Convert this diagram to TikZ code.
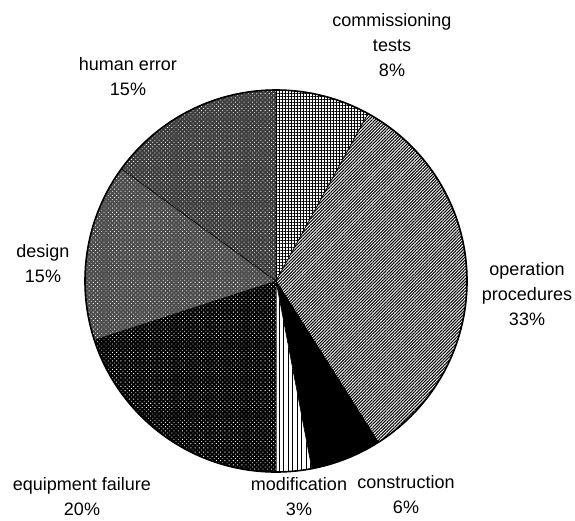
\documentclass[tikz,border=0pt]{standalone}
\usepackage{fontspec}
\setmainfont{Liberation Sans}
\usetikzlibrary{patterns}
\usetikzlibrary{patterns.meta}
\tikzset{
  lbl/.style={align=center, inner sep=0pt, font=\fontsize{18}{25}\selectfont},
  rim/.style={line width=1.6pt},
  pie_part/.style={draw=black, line width=0.6pt},
  % pie_part/.style={draw=none},
  part_comm/.style={pie_part, fill=white, postaction={pattern={Hatch[angle=0, distance=3pt, line width=1pt]}}},
  part_oper/.style={pie_part, fill=white, postaction={pattern={Lines[angle=45, distance=2.2pt, line width=1.05pt]}}},
  part_cons/.style={pie_part, fill=black},
  part_modi/.style={pie_part, fill=white, postaction={pattern={Lines[angle=90, distance=4.5pt, line width=1pt]}}},
  part_equi/.style={pie_part, fill=black, postaction={pattern={Dots[angle=45, distance=3pt, radius=0.6pt]}, pattern color=white}},
  part_desi/.style={pie_part, fill=black!70, postaction={pattern={Dots[angle=45, distance=3pt, radius=0.6pt]}, pattern color=white}},
  part_huma/.style={pie_part, fill=black!76, postaction={pattern={Dots[angle=45, distance=3pt, radius=0.6pt]}, pattern color=white}},
}

\begin{document}
\begin{tikzpicture}[x=1pt, y=1pt]
\useasboundingbox (0,0) rectangle (575,-520);

\coordinate (c) at (276,-281);

% start angle / end angle / style
\foreach \a/\b/\s in {90/61.2/part_comm, 61.2/-57.6/part_oper, -57.6/-79.2/part_cons,
  -79.2/-90/part_modi, -90/-162/part_equi, -162/-216/part_desi, 144/90/part_huma}
  \draw[\s] (c) -- ++(\a:191) arc[start angle=\a, end angle=\b, radius=191] -- cycle;

\draw[rim] (c) circle (191);

\node[lbl] (comm) at (392,-45) {commissioning\\tests\\8\%};

\node[lbl] (huma) at (128,-77) {human error\\15\%};

\node[lbl] (desi) at (43,-264) {design\\15\%};

\node[lbl] (oper) at (527,-294) {operation\\procedures\\33\%};

\node[lbl] (equi) at (82,-497) {equipment failure\\20\%};

\node[lbl] (cons) at (406,-495) {construction\\6\%};

\node[lbl] (modi) at (299,-497) {modification\\3\%};

\end{tikzpicture}
\end{document}
